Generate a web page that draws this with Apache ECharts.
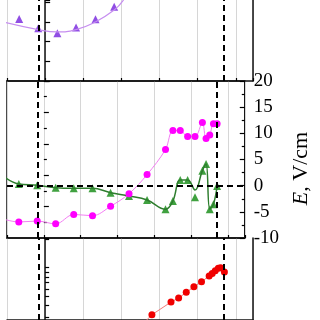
<!DOCTYPE html>
<html>
<head>
<meta charset="utf-8">
<script src="https://cdn.jsdelivr.net/npm/echarts@6/dist/echarts.min.js"></script>
<style>
  html, body { margin: 0; padding: 0; background: #fff; }
  #chart { width: 320px; height: 320px; }
</style>
</head>
<body>
<div id="chart"></div>
<script>
  // top panel (purple triangles + fit curve)
  const topX = [-0.68, -0.18, 0.32, 0.81, 1.32, 1.81]
  const topVal = [3.15, 2.68, 2.42, 2.71, 3.13, 3.77]
  const topFitX = [-1.2, -0.18, 0.31, 0.81, 1.31, 1.81, 2.05, 2.25]
  const topFitVal = [3.05, 2.61, 2.49, 2.61, 2.99, 3.6, 4.1, 4.8]

  // middle panel
  const midX = [-1.2, -0.68, -0.18, 0.32, 0.81, 1.32, 1.81, 2.31, 2.80, 3.30, 3.50, 3.70, 3.90, 4.10, 4.30, 4.40, 4.50, 4.60, 4.70]
  const magentaVal = [0.64, 0.51, 0.54, 0.45, 0.75, 0.71, 1.01, 1.41, 2.02, 2.82, 3.42, 3.42, 3.23, 3.23, 3.68, 3.17, 3.28, 3.64, 3.64]
  const fieldE = [null, 0.32, 0.08, -0.38, -0.5, -0.5, -1.34, -1.97, -2.73, -4.51, -2.92, 1.09, 1.09, -2.22, 2.87, 4.15, -4.49, -3.54, -0.06]
  const fieldFit = [2.4, 0.32, 0.08, -0.38, -0.5, -0.5, -1.34, -1.97, -2.73, -4.51, -2.92, 1.09, 1.09, -0.82, 2.87, 4.15, -4.49, -3.54, -0.06]
  const eTicks = [-10, 20, 5]

  // bottom panel (log scale)
  const redX = [2.30, 2.80, 3.30, 3.50, 3.70, 3.90, 4.10, 4.30, 4.38, 4.46, 4.54, 4.60, 4.70]
  const redVal = [20, 32, 43.5, 48, 55, 63, 71, 82, 87, 93, 98.5, 100, 90]
  const logTicks = [30, 40, 50, 60, 70, 80, 90, 100, 200]

  // dashed markers
  const dashX = [-0.16, 4.69]
  const dashE = 0

  const serif = 'Liberation Serif'
  const pair = (xs, ys) => xs.map((x, i) => [x, ys[i]]).filter(p => p[1] != null)

  const frame = { show: true, lineStyle: { color: '#111', width: 1.5 } }
  const dashLine = { color: '#000', width: 2, type: [6, 4] }
  const vMark = {
    silent: true,
    symbol: 'none',
    label: { show: false },
    lineStyle: dashLine,
    data: dashX.map(v => ({ xAxis: v }))
  }

  const xAxisBase = (gridIndex, extra) => Object.assign({
    gridIndex: gridIndex,
    type: 'value',
    min: -1,
    max: 5.45,
    interval: 1,
    axisLine: frame,
    axisTick: { inside: true, length: 3, lineStyle: { color: '#000', width: 1.2 } },
    axisLabel: { show: false },
    splitLine: { show: true, lineStyle: { color: '#d6d6d6', width: 1 } }
  }, extra || {})

  // plain border axis (only a line)
  const borderY = (gridIndex, pos) => ({
    gridIndex: gridIndex, type: 'value', position: pos, min: 0, max: 1,
    axisLine: frame, axisTick: { show: false }, axisLabel: { show: false }, splitLine: { show: false }
  })

  const yTick = { inside: true, length: 5, lineStyle: { color: '#000', width: 1.2 } }
  const yMinor = { show: true, splitNumber: 2, length: 3, lineStyle: { color: '#000', width: 1.2 } }

  const option = {
    animation: false,
    grid: [
      { left: 7, right: 67, top: 0, height: 81 },
      { left: 7, right: 67, top: 81, height: 157, show: true, borderColor: '#111', borderWidth: 1.5 },
      { left: 7, right: 67, top: 238, height: 82 }
    ],
    xAxis: [
      xAxisBase(0),
      xAxisBase(1),
      xAxisBase(2, { position: 'top', axisTick: { show: false } })
    ],
    yAxis: [
      {
        gridIndex: 0, type: 'value', min: 0, max: 4.11, interval: 1,
        axisLine: frame, axisTick: yTick, axisLabel: { show: false }, splitLine: { show: false }
      },
      {
        gridIndex: 1, type: 'value', min: 0, max: 5, interval: 1,
        axisLine: { show: false }, axisTick: yTick, minorTick: yMinor,
        axisLabel: { show: false }, splitLine: { show: false }, minorSplitLine: { show: false }
      },
      {
        gridIndex: 1, type: 'value', position: 'right',
        min: eTicks[0], max: eTicks[1], interval: eTicks[2],
        axisLine: { show: false }, axisTick: yTick, minorTick: yMinor,
        splitLine: { show: false }, minorSplitLine: { show: false },
        axisLabel: { color: '#000', fontFamily: serif, fontSize: 19, margin: 9 },
        name: '{i|E}, V/cm',
        nameLocation: 'middle',
        nameRotate: 90,
        nameGap: 42,
        nameTextStyle: {
          color: '#000', fontFamily: serif, fontSize: 22, padding: [0, 18, 0, 0],
          rich: { i: { fontStyle: 'italic', fontFamily: serif, fontSize: 22, color: '#000' } }
        }
      },
      {
        gridIndex: 2, type: 'log', logBase: 10, min: 28.15, max: 205.4,
        axisLine: frame,
        axisTick: { inside: true, length: 4, customValues: logTicks, lineStyle: { color: '#000', width: 1.2 } },
        axisLabel: { show: false }, splitLine: { show: false }
      },
      borderY(0, 'right'),
      borderY(2, 'right')
    ],
    series: [
      {
        type: 'line', xAxisIndex: 0, yAxisIndex: 0, data: pair(topFitX, topFitVal),
        smooth: 0.5, showSymbol: false, clip: true,
        lineStyle: { color: '#c68ef0', width: 1.2 }
      },
      {
        type: 'scatter', xAxisIndex: 0, yAxisIndex: 0, data: pair(topX, topVal),
        symbol: 'triangle', symbolSize: 8, itemStyle: { color: '#7422dd' }
      },
      {
        type: 'line', xAxisIndex: 1, yAxisIndex: 1, data: pair(midX, magentaVal),
        smooth: 0.35, symbol: 'circle', symbolSize: 7, clip: true,
        lineStyle: { color: '#f27ef2', width: 1 }, itemStyle: { color: '#ff00ff' }
      },
      {
        type: 'line', xAxisIndex: 1, yAxisIndex: 2, data: pair(midX, fieldFit),
        smooth: 0.4, showSymbol: false, clip: true,
        lineStyle: { color: '#2e7d2e', width: 1.5 }
      },
      {
        type: 'scatter', xAxisIndex: 1, yAxisIndex: 2, data: pair(midX, fieldE),
        symbol: 'triangle', symbolSize: 8, itemStyle: { color: '#108a10' }
      },
      {
        type: 'line', xAxisIndex: 2, yAxisIndex: 3, data: pair(redX, redVal),
        symbol: 'circle', symbolSize: 7, clip: true,
        lineStyle: { color: '#f07a7a', width: 1 }, itemStyle: { color: '#f00000' }
      },
      // dashed guide lines on top of everything
      { type: 'line', xAxisIndex: 0, yAxisIndex: 0, data: [], z: 10, markLine: vMark },
      {
        type: 'line', xAxisIndex: 1, yAxisIndex: 2, data: [], z: 10,
        markLine: Object.assign({}, vMark, { data: vMark.data.concat([{ yAxis: dashE }]) })
      },
      { type: 'line', xAxisIndex: 2, yAxisIndex: 3, data: [], z: 10, markLine: vMark }
    ]
  }

  const chart = echarts.init(document.getElementById('chart'))
  chart.setOption(option)
</script>
</body>
</html>
